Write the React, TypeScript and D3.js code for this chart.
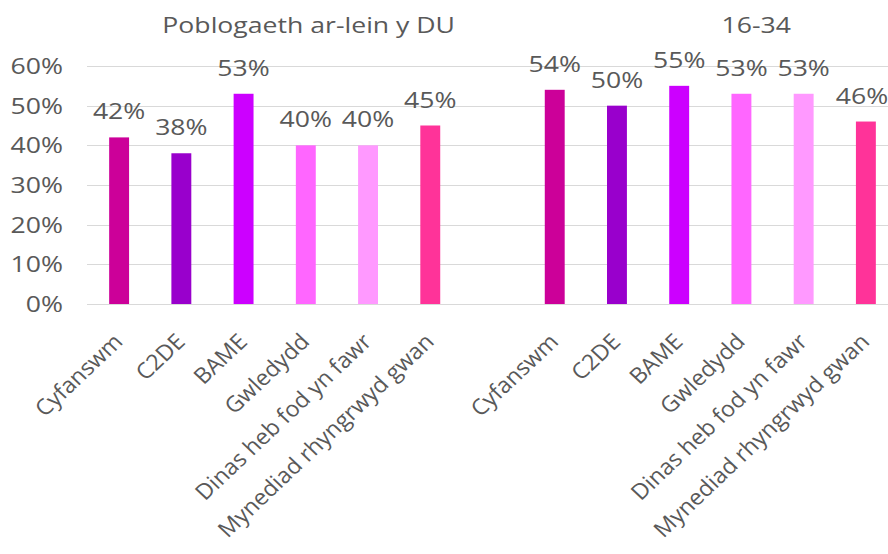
import React from "react";
import * as d3 from "d3";

const categories = ["Cyfanswm", "C2DE", "BAME", "Gwledydd", "Dinas heb fod yn fawr", "Mynediad rhyngrwyd gwan"];
const groupTitles = ["Poblogaeth ar-lein y DU", "16-34"];
const ukOnline = [0.42, 0.38, 0.53, 0.40, 0.40, 0.45];
const age1634 = [0.54, 0.50, 0.55, 0.53, 0.53, 0.46];
const barColors = ["#CC0099", "#9900CC", "#CC00FF", "#FF66FF", "#FF99FF", "#FF3399"];
const yTicks = [0, 0.1, 0.2, 0.3, 0.4, 0.5, 0.6];

const W = 888;
const H = 554;
const FONT = "'Open Sans', sans-serif";
const FS = 22;
const SX = 1.21;
const K = 1.06;
const SX_ROT = 1.0;
const TEXT = "#595959";

type Row = { key: string; group: number; cat: string; value: number; color: string };

const rows: Row[] = [];
categories.forEach((c, i) => rows.push({ key: `0-${c}`, group: 0, cat: c, value: ukOnline[i], color: barColors[i] }));
const gapKey = "gap";
categories.forEach((c, i) => rows.push({ key: `1-${c}`, group: 1, cat: c, value: age1634[i], color: barColors[i] }));

const domainKeys = [...rows.slice(0, 6).map((r) => r.key), gapKey, ...rows.slice(6).map((r) => r.key)];

function T(props: { x: number; y: number; anchor: string; dy?: string; children: React.ReactNode }) {
  return (
    <text
      transform={`translate(${props.x},${props.y}) scale(${SX},1)`}
      textAnchor={props.anchor}
      dy={props.dy}
      fontSize={FS}
      fill={TEXT}
    >
      {props.children}
    </text>
  );
}

export default function App() {
  const x = d3.scaleBand<string>().domain(domainKeys).range([88, 897]).paddingInner(0.68).paddingOuter(0.34);
  const y = d3.scaleLinear().domain([0, 0.6]).range([304, 66]);
  const fmt = d3.format(".0%");

  const g0c = (x(rows[0].key)! + x(rows[5].key)! + x.bandwidth()) / 2;
  const g1c = (x(rows[6].key)! + x(rows[11].key)! + x.bandwidth()) / 2;
  const titleX = [g0c + 34, g1c + 46];

  return (
    <svg width={W} height={H} style={{ position: "absolute", left: 0, top: 0, background: "#fff" }} fontFamily={FONT}>
      <rect x={0} y={0} width={W} height={H} fill="#fff" />
      {yTicks.map((t) => (
        <g key={t}>
          <line x1={87} x2={W} y1={Math.round(y(t)) + 0.5} y2={Math.round(y(t)) + 0.5} stroke="#d9d9d9" strokeWidth={1} />
          <T x={63} y={y(t)} dy="0.36em" anchor="end">
            {fmt(t)}
          </T>
        </g>
      ))}
      {groupTitles.map((t, i) => (
        <T key={t} x={titleX[i]} y={33} anchor="middle">
          {t}
        </T>
      ))}
      {rows.map((r) => {
        const bx = x(r.key)!;
        const cx = bx + x.bandwidth() / 2;
        return (
          <g key={r.key}>
            <rect x={bx} y={y(r.value)} width={x.bandwidth()} height={y(0) - y(r.value)} fill={r.color} />
            <T x={Math.min(cx, W - 26)} y={y(r.value) - 18} anchor="middle">
              {fmt(r.value)}
            </T>
            <text
              transform={`translate(${cx + 5},${343}) scale(${K},1) rotate(-45) scale(${SX_ROT},1)`}
              textAnchor="end"
              fontSize={FS}
              fill={TEXT}
            >
              {r.cat}
            </text>
          </g>
        );
      })}
    </svg>
  );
}
